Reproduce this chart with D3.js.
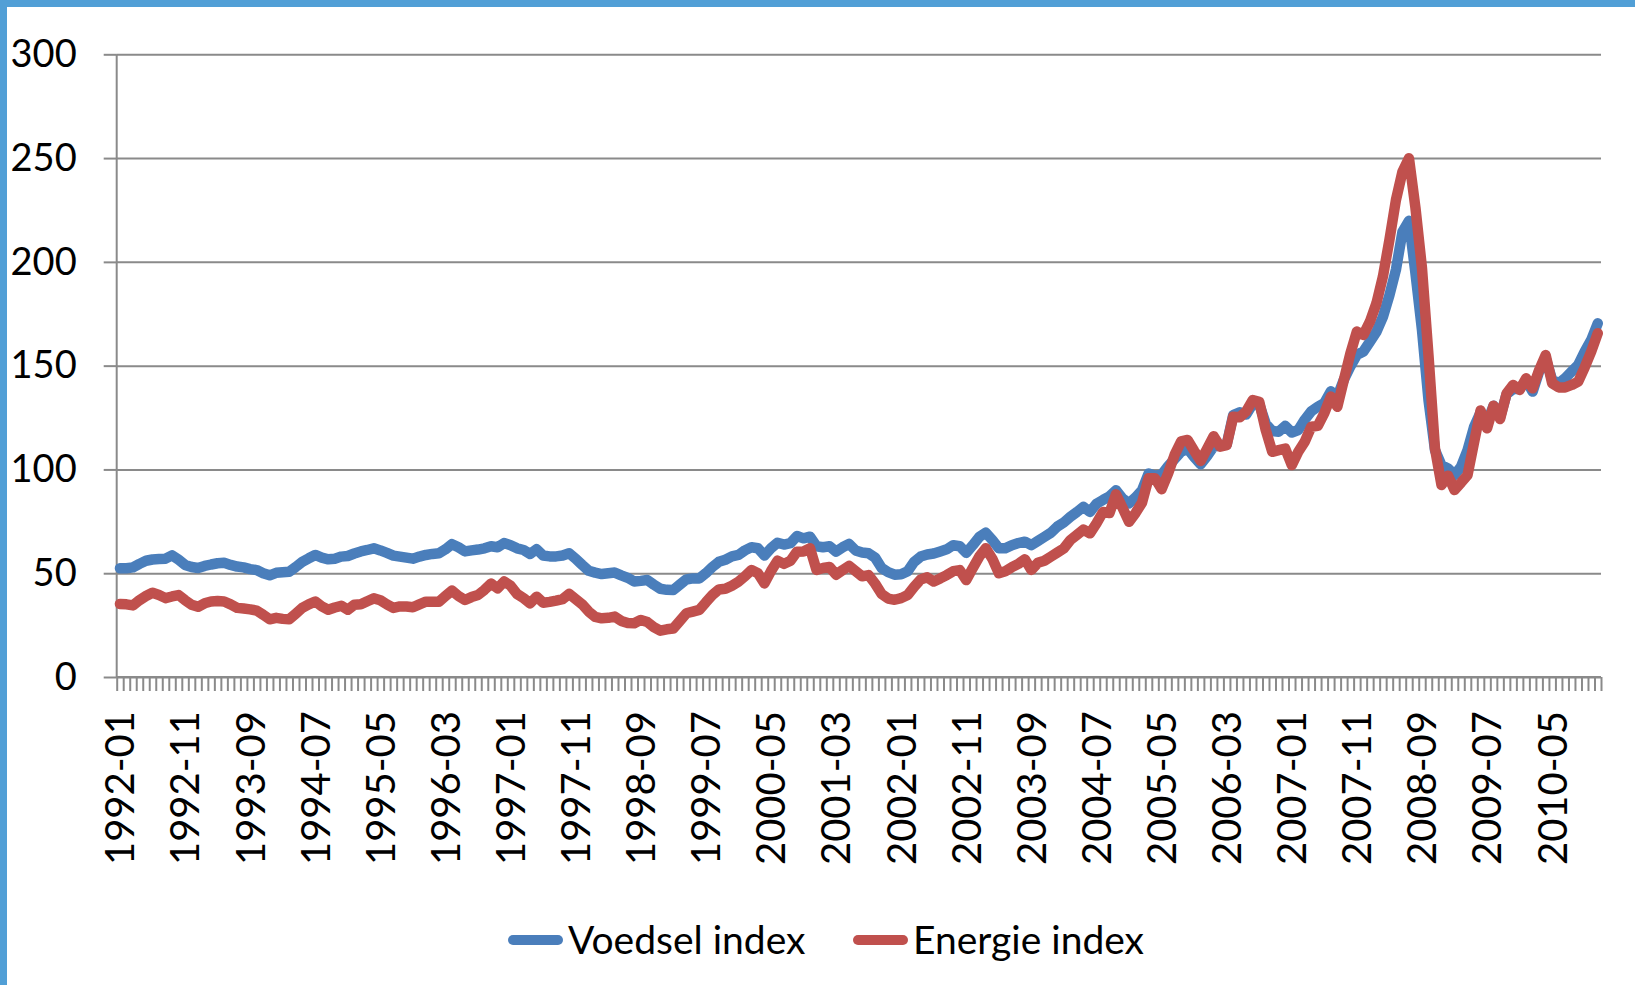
<!DOCTYPE html>
<meta charset="utf-8">
<style>
  body { margin: 0; background: #fff; }
  svg { display: block; }
</style>
<script src="https://d3js.org/d3.v7.min.js"></script>
<div id="chart"></div>
<script>

// Monthly index values, 1992-01 .. 2010-12 (one row per year)
var voedsel = [
  52.4, 52.4, 52.8, 54.5, 56.0, 56.6, 56.8, 57.0, 58.6, 56.5, 54.0, 53.0,
  52.5, 53.5, 54.2, 54.8, 55.0, 54.0, 53.2, 52.8, 52.0, 51.5, 50.0, 49.0,
  50.2, 50.5, 50.7, 53.0, 55.5, 57.2, 58.8, 57.5, 56.7, 57.0, 58.0, 58.3,
  59.5, 60.5, 61.2, 62.0, 61.0, 59.8, 58.5, 58.0, 57.5, 57.0, 58.0, 58.8,
  59.3, 59.6, 61.5, 64.0, 62.5, 60.5, 61.0, 61.4, 62.0, 63.0, 62.5, 64.5,
  63.5, 62.0, 61.2, 59.3, 61.6, 58.5, 58.1, 58.1, 58.5, 59.6, 57.0, 54.0,
  51.2, 50.3, 49.6, 50.0, 50.3, 49.0, 47.8, 46.0, 46.3, 46.7, 44.5, 42.5,
  42.0, 41.9, 44.5, 47.0, 47.5, 47.5, 50.0, 53.0, 55.5, 56.5, 58.1, 58.8,
  61.0, 62.5, 62.0, 58.5, 62.0, 64.7, 63.8, 64.5, 67.9, 66.8, 67.6, 63.0,
  62.5, 63.0, 60.4, 62.5, 64.1, 61.0, 60.0, 59.6, 57.5, 52.5, 50.5, 49.3,
  49.5, 51.0, 55.5, 58.0, 59.0, 59.5, 60.5, 61.5, 63.5, 63.0, 59.8, 63.5,
  67.5, 69.5, 66.0, 62.0, 62.0, 63.5, 64.5, 65.2, 63.5, 65.5, 67.5, 69.5,
  72.5, 74.5, 77.2, 79.5, 82.0, 79.5, 83.5, 85.3, 87.0, 90.0, 86.0, 83.7,
  86.5, 90.0, 98.0, 97.0, 97.5, 101.5, 105.0, 108.5, 110.0, 106.0, 102.5, 106.5,
  111.0, 111.5, 112.0, 126.2, 127.5, 126.5, 131.5, 131.5, 122.0, 118.5, 118.2, 121.0,
  117.8, 119.0, 124.0, 128.0, 130.2, 132.0, 137.6, 135.1, 143.2, 149.6, 155.2, 156.8,
  161.5, 166.3, 173.5, 183.9, 196.2, 214.4, 219.8, 194.5, 167.2, 133.4, 109.3, 102.0,
  100.5, 97.3, 101.3, 109.3, 120.5, 127.5, 122.7, 130.7, 125.1, 136.3, 138.7, 138.7,
  143.1, 137.5, 147.2, 153.6, 143.1, 141.5, 144.0, 147.2, 150.4, 156.8, 162.4, 170.4
]

var energie = [
  35.2, 35.0, 34.5, 37.0, 39.0, 40.6, 39.5, 38.0, 38.8, 39.5, 37.0, 34.8,
  33.8, 35.5, 36.4, 36.6, 36.4, 35.0, 33.3, 33.0, 32.6, 32.0, 30.0, 27.8,
  28.5, 28.0, 27.8, 30.5, 33.3, 35.0, 36.4, 34.0, 32.4, 33.5, 34.3, 32.4,
  34.8, 35.0, 36.5, 37.9, 37.0, 35.0, 33.3, 34.0, 34.0, 33.6, 35.0, 36.3,
  36.3, 36.3, 39.0, 41.6, 39.0, 37.1, 38.5, 39.5, 42.0, 45.0, 42.7, 46.0,
  44.0, 40.0, 38.0, 35.5, 38.7, 35.8, 36.2, 36.8, 37.5, 40.0, 37.5, 35.0,
  31.5, 29.0, 28.3, 28.5, 29.1, 27.0, 26.0, 25.9, 27.5, 26.5, 24.0, 22.3,
  23.0, 23.4, 27.0, 30.7, 31.5, 32.3, 36.0, 39.5, 42.2, 42.5, 44.0, 45.9,
  48.5, 51.5, 50.0, 45.1, 51.0, 56.0, 54.5, 56.0, 60.4, 60.5, 62.0, 51.6,
  52.5, 53.0, 49.3, 51.5, 53.5, 51.0, 48.5, 49.1, 45.0, 40.0, 37.8, 37.2,
  38.0, 39.5, 43.5, 47.0, 48.0, 46.0, 47.5, 49.1, 51.0, 51.5, 46.7, 52.5,
  58.0, 62.0, 57.0, 50.0, 51.0, 52.9, 54.5, 56.7, 51.6, 55.0, 56.0, 58.0,
  60.0, 62.0, 66.0, 68.5, 71.0, 69.2, 74.0, 79.5, 79.0, 88.0, 81.5, 74.8,
  79.0, 84.0, 95.7, 95.7, 90.5, 98.0, 107.0, 113.5, 114.2, 109.0, 104.1, 110.0,
  116.0, 111.0, 111.7, 125.4, 125.1, 128.0, 133.4, 132.6, 119.0, 108.5, 109.3, 110.0,
  102.1, 108.5, 113.4, 120.6, 121.0, 127.1, 135.1, 130.2, 143.1, 155.9, 166.4, 164.8,
  171.2, 180.0, 192.9, 210.6, 229.8, 243.4, 249.9, 226.0, 197.0, 155.0, 110.0, 92.5,
  97.0, 90.1, 93.6, 97.3, 113.0, 128.4, 119.8, 130.7, 124.3, 136.6, 140.7, 138.3,
  143.9, 139.1, 147.9, 155.1, 141.5, 139.5, 139.5, 140.7, 142.3, 149.2, 156.8, 165.6
]

// x-axis tick labels (every 10th month)
var tickLabels = ["1992-01", "1992-11", "1993-09", "1994-07", "1995-05", "1996-03",
  "1997-01", "1997-11", "1998-09", "1999-07", "2000-05", "2001-03", "2002-01",
  "2002-11", "2003-09", "2004-07", "2005-05", "2006-03", "2007-01", "2007-11",
  "2008-09", "2009-07", "2010-05"]

var yTicks = [0, 50, 100, 150, 200, 250, 300]

var seriesNames = ["Voedsel index", "Energie index"]
var seriesColors = ["#4a7ebb", "#c0504d"]

// month categories
var months = []
for (var yr = 1992; yr <= 2010; yr++) {
  for (var m = 1; m <= 12; m++) {
    months.push(yr + "-" + (m < 10 ? "0" + m : m))
  }
}

var W = 1635, H = 985
var plotLeft = 116.7, plotRight = 1601, plotTop = 54.3, plotBottom = 677
var axisColor = "#8a8a8a"
var font = "Lato, 'Open Sans', sans-serif"

var svg = d3.select("#chart")
  .append("svg")
    .attr("width", W)
    .attr("height", H)

svg.append("rect").attr("width", W).attr("height", H).attr("fill", "#fff")
// blue frame on top and left
svg.append("rect").attr("x", 0).attr("y", 0).attr("width", W).attr("height", 7).attr("fill", "#519fd6")
svg.append("rect").attr("x", 0).attr("y", 0).attr("width", 7).attr("height", H).attr("fill", "#519fd6")

var x = d3.scaleBand()
  .domain(months)
  .range([plotLeft, plotRight])
  .padding(0)

var xEdge = d3.scaleLinear()
  .domain([0, months.length])
  .range([plotLeft, plotRight])

var y = d3.scaleLinear()
  .domain([0, 300])
  .range([plotBottom, plotTop])

// gridlines
var grid = svg.append("g")
  .attr("transform", "translate(" + plotLeft + ",0)")
  .call(d3.axisLeft(y).tickValues(yTicks).tickSize(-(plotRight - plotLeft)).tickFormat(""))
grid.select(".domain").remove()
grid.selectAll("line").attr("stroke", axisColor).attr("stroke-width", 2)

// y axis with outside tick marks and labels
var yAxis = svg.append("g")
  .attr("transform", "translate(" + plotLeft + ",0)")
  .call(d3.axisLeft(y).tickValues(yTicks).tickSize(13).tickPadding(27))
yAxis.select(".domain").attr("stroke", axisColor).attr("stroke-width", 2)
  .attr("d", "M0," + plotTop + "V" + plotBottom)
yAxis.selectAll("line").attr("stroke", axisColor).attr("stroke-width", 2)
yAxis.selectAll("text")
  .attr("font-family", font)
  .attr("font-size", "38px")
  .attr("fill", "#000")

// x axis: tick marks at category boundaries
var xTicks = svg.append("g")
  .attr("transform", "translate(0," + plotBottom + ")")
  .call(d3.axisBottom(xEdge).tickValues(d3.range(months.length + 1)).tickSize(14).tickFormat(""))
xTicks.select(".domain").attr("stroke", axisColor).attr("stroke-width", 2)
  .attr("d", "M" + plotLeft + ",0H" + plotRight)
xTicks.selectAll("line").attr("stroke", axisColor).attr("stroke-width", 2)

// x labels, rotated
var xLabels = svg.append("g")
  .attr("transform", "translate(0," + plotBottom + ")")
  .call(d3.axisBottom(x).tickValues(tickLabels).tickSize(0))
xLabels.select(".domain").remove()
xLabels.selectAll("text")
  .attr("font-family", font)
  .attr("font-size", "40px")
  .attr("fill", "#000")
  .attr("transform", "rotate(-90)")
  .attr("x", -34)
  .attr("y", 0)
  .attr("dy", "0.36em")
  .style("text-anchor", "end")

// lines
var line = d3.line()
  .x(function(d, i) { return x(months[i]) + x.bandwidth() / 2 })
  .y(function(d) { return y(d) })

var series = [voedsel, energie]
series.forEach(function(vals, k) {
  svg.append("path")
    .datum(vals)
    .attr("d", line)
    .attr("fill", "none")
    .attr("stroke", seriesColors[k])
    .attr("stroke-width", 10.5)
    .attr("stroke-linejoin", "round")
    .attr("stroke-linecap", "round")
})

// legend
var legendX = [508, 853]
seriesNames.forEach(function(name, k) {
  svg.append("line")
    .attr("x1", legendX[k] + 5).attr("x2", legendX[k] + 50)
    .attr("y1", 940).attr("y2", 940)
    .attr("stroke", seriesColors[k])
    .attr("stroke-width", 10)
    .attr("stroke-linecap", "round")
  svg.append("text")
    .attr("x", legendX[k] + 60)
    .attr("y", 954)
    .attr("font-family", font)
    .attr("font-size", "39px")
    .attr("fill", "#000")
    .text(name)
})

</script>
